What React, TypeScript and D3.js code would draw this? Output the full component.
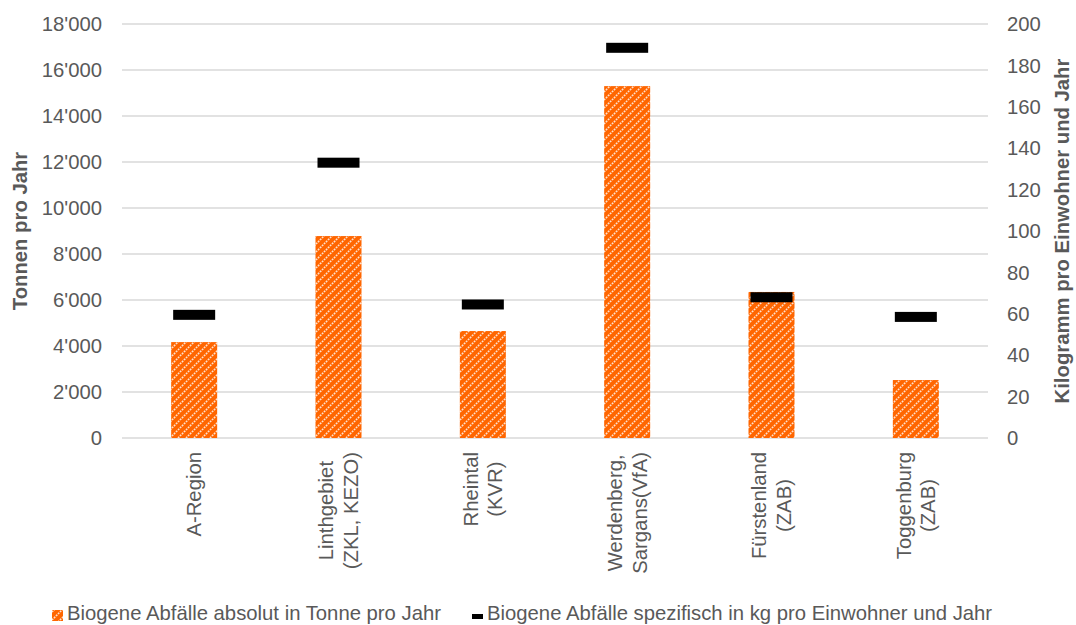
import React from "react";
import * as d3 from "d3";

const categories: string[][] = [
  ["A-Region"],
  ["Linthgebiet", "(ZKL, KEZO)"],
  ["Rheintal", "(KVR)"],
  ["Werdenberg,", "Sargans(VfA)"],
  ["Fürstenland", "(ZAB)"],
  ["Toggenburg", "(ZAB)"],
];
const tonnen: number[] = [4170, 8780, 4650, 15300, 6350, 2520];
const kgProEinwohner: number[] = [59.5, 133, 64.5, 188.5, 68, 58.5];
const leftTicks: number[] = [0, 2000, 4000, 6000, 8000, 10000, 12000, 14000, 16000, 18000];
const rightTicks: number[] = [0, 20, 40, 60, 80, 100, 120, 140, 160, 180, 200];
const seriesNames: string[] = [
  "Biogene Abfälle absolut in Tonne pro Jahr",
  "Biogene Abfälle spezifisch in kg pro Einwohner und Jahr",
];

const W = 1076;
const H = 625;
const FONT = "Liberation Sans, Arial, sans-serif";
const FS = 20.3;
const TXT = "#595959";
const ORANGE = "#FF6600";
const GRID = "#D9D9D9";

let ctx: CanvasRenderingContext2D | null = null;
function measure(s: string): number {
  if (!ctx) ctx = document.createElement("canvas").getContext("2d");
  if (!ctx) return s.length * FS * 0.5;
  ctx.font = `${FS}px ${FONT}`;
  return ctx.measureText(s).width;
}

export default function App() {
  const left = 122;
  const right = 988;
  const top = 24;
  const bottom = 438;

  const x = d3.scaleBand<number>().domain(d3.range(categories.length)).range([left, right]).paddingInner(0).paddingOuter(0);
  const yL = d3.scaleLinear().domain([0, 18000]).range([bottom, top]);
  const yR = d3.scaleLinear().domain([0, 200]).range([bottom, top]);
  const fmt = (v: number) => d3.format(",")(v).replace(/,/g, "'");

  const barW = 46;
  const markW = 42;
  const markH = 10;
  const labelTop = 452;
  const lineGap = 24.5;

  return (
    <svg width={W} height={H} style={{ position: "absolute", left: 0, top: 0, background: "#fff" }} fontFamily={FONT}>
      <defs>
        <pattern id="hatch" patternUnits="userSpaceOnUse" width={8} height={8}>
          <rect width={8} height={8} fill={ORANGE} />
          <path d="M-2,2 L2,-2 M0,8 L8,0 M6,10 L10,6" stroke="#FFFFFF" strokeOpacity={0.8} strokeWidth={1.6} strokeDasharray="1.8,1.0" />
        </pattern>
      </defs>
      <rect width={W} height={H} fill="#fff" />
      {leftTicks.map((t) => (
        <line key={t} x1={left} x2={right} y1={yL(t)} y2={yL(t)} stroke={GRID} strokeWidth={1.5} />
      ))}
      {leftTicks.map((t) => (
        <text key={"l" + t} x={102} y={yL(t)} dy="0.35em" textAnchor="end" fontSize={FS} fill={TXT}>
          {fmt(t)}
        </text>
      ))}
      {rightTicks.map((t) => (
        <text key={"r" + t} x={1007} y={yR(t)} dy="0.35em" textAnchor="start" fontSize={FS} fill={TXT}>
          {t}
        </text>
      ))}
      {tonnen.map((v, i) => {
        const cx = (x(i) as number) + x.bandwidth() / 2;
        return <rect key={"b" + i} x={cx - barW / 2} y={yL(v)} width={barW} height={bottom - yL(v)} fill="url(#hatch)" />;
      })}
      {kgProEinwohner.map((v, i) => {
        const cx = (x(i) as number) + x.bandwidth() / 2;
        return <rect key={"m" + i} x={cx - markW / 2} y={yR(v) - markH / 2} width={markW} height={markH} fill="#000" />;
      })}
      {categories.map((lines, i) => {
        const cx = (x(i) as number) + x.bandwidth() / 2;
        const maxLen = Math.max(...lines.map(measure));
        const cy = labelTop + maxLen / 2;
        const n = lines.length;
        return (
          <g key={"c" + i}>
            {lines.map((ln, j) => {
              const off = (j - (n - 1) / 2) * lineGap;
              return (
                <text key={j} transform={`translate(${cx + off},${cy}) rotate(-90)`} textAnchor="middle" dy="0.35em" fontSize={FS} fill={TXT}>
                  {ln}
                </text>
              );
            })}
          </g>
        );
      })}
      <text transform={`translate(20,${(top + bottom) / 2}) rotate(-90)`} textAnchor="middle" dy="0.35em" fontSize={FS} fontWeight="bold" fill={TXT}>
        Tonnen pro Jahr
      </text>
      <text transform={`translate(1062,${(top + bottom) / 2}) rotate(-90)`} textAnchor="middle" dy="0.35em" fontSize={FS} fontWeight="bold" fill={TXT}>
        Kilogramm pro Einwohner und Jahr
      </text>
      <rect x={52} y={610} width={11} height={11} fill="url(#hatch)" />
      <text x={67} y={620} fontSize={FS} fill={TXT}>{seriesNames[0]}</text>
      <rect x={472} y={614} width={11} height={5} fill="#000" />
      <text x={487} y={620} fontSize={FS} fill={TXT}>{seriesNames[1]}</text>
    </svg>
  );
}
